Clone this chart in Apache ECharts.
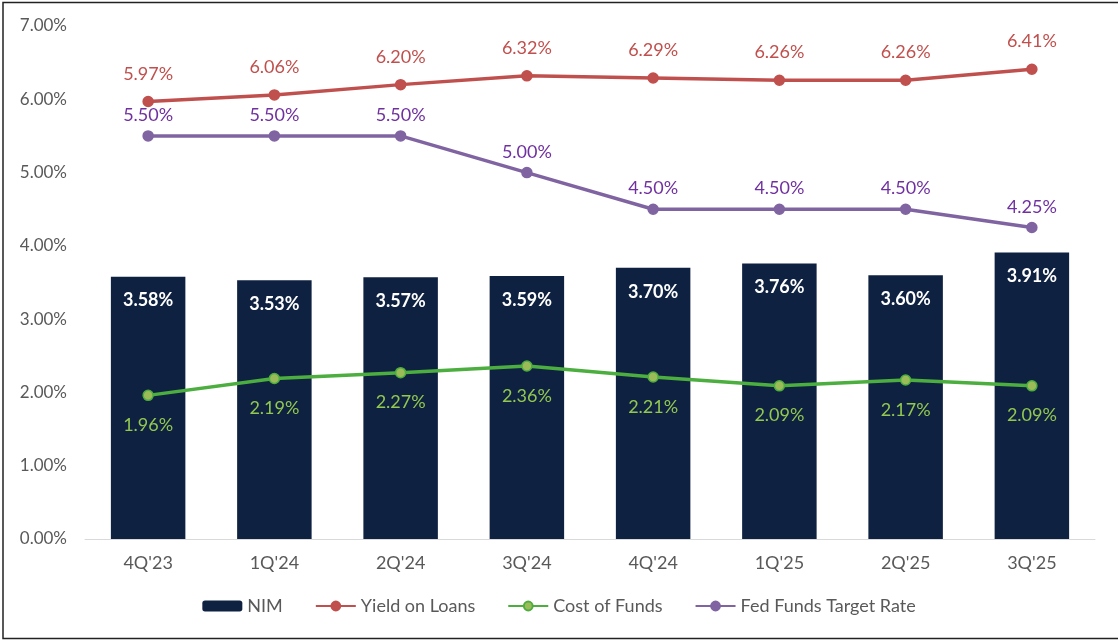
<!DOCTYPE html>
<html>
<head>
<meta charset="utf-8">
<script src="https://cdn.jsdelivr.net/npm/echarts@6/dist/echarts.min.js"></script>
<style>
  html, body { margin: 0; padding: 0; background: #fff; }
  #main { width: 1118px; height: 641px; }
</style>
</head>
<body>
<div id="main"></div>
<script>
// quarters on the x axis
const quarters = ["4Q'23", "1Q'24", "2Q'24", "3Q'24", "4Q'24", "1Q'25", "2Q'25", "3Q'25"]
// values in percent
const nim = [3.58, 3.53, 3.57, 3.59, 3.70, 3.76, 3.60, 3.91]
const yieldOnLoans = [5.97, 6.06, 6.20, 6.32, 6.29, 6.26, 6.26, 6.41]
const costOfFunds = [1.96, 2.19, 2.27, 2.36, 2.21, 2.09, 2.17, 2.09]
const fedFunds = [5.50, 5.50, 5.50, 5.00, 4.50, 4.50, 4.50, 4.25]

const FONT = 'Lato'
const pct = p => p.value.toFixed(2) + '%'

let chart = echarts.init(document.getElementById('main'))

function lineSeries (name, data, lineColor, dotColor, labelColor, pos, dist) {
  return {
    name: name,
    type: 'line',
    data: data,
    symbol: 'circle',
    symbolSize: 10,
    z: 3,
    lineStyle: { color: lineColor, width: 3.5 },
    itemStyle: { color: dotColor, borderColor: lineColor, borderWidth: 1.5 },
    label: {
      show: true,
      position: pos,
      distance: dist,
      formatter: pct,
      color: labelColor,
      fontFamily: FONT,
      fontSize: 18
    }
  }
}

let option = {
  backgroundColor: '#fff',
  animation: false,
  graphic: [{
    type: 'rect',
    shape: { x: 3, y: 2.5, width: 1125, height: 636 },
    style: { fill: 'none', stroke: '#222', lineWidth: 1.5 },
    silent: true
  }],
  grid: { left: 85, right: 23, top: 26, bottom: 102 },
  legend: {
    bottom: 21,
    left: 'center',
    itemGap: 32,
    itemWidth: 40,
    itemHeight: 11,
    textStyle: { color: '#595959', fontFamily: FONT, fontSize: 18 },
    data: [
      { name: 'NIM' },
      { name: 'Yield on Loans' },
      { name: 'Cost of Funds' },
      { name: 'Fed Funds Target Rate' }
    ]
  },
  xAxis: {
    type: 'category',
    data: quarters,
    axisTick: { show: false },
    axisLine: { lineStyle: { color: '#d9d9d9', width: 1 } },
    axisLabel: { color: '#595959', fontFamily: FONT, fontSize: 18, margin: 15 }
  },
  yAxis: {
    type: 'value',
    min: 0,
    max: 7,
    interval: 1,
    splitLine: { show: false },
    axisLine: { show: false },
    axisTick: { show: false },
    axisLabel: {
      color: '#595959',
      fontFamily: FONT,
      fontSize: 17,
      margin: 18,
      formatter: v => v.toFixed(2) + '%'
    }
  },
  series: [
    {
      name: 'NIM',
      type: 'bar',
      data: nim,
      barWidth: '59%',
      z: 2,
      itemStyle: { color: '#0e2141' },
      label: {
        show: true,
        position: 'insideTop',
        distance: 15,
        formatter: pct,
        color: '#fff',
        fontWeight: 'bold',
        fontFamily: FONT,
        fontSize: 18
      }
    },
    lineSeries('Yield on Loans', yieldOnLoans, '#c0504d', '#c0504d', '#c0504d', 'top', 13),
    lineSeries('Cost of Funds', costOfFunds, '#4cae3f', '#9bbb59', '#92c84f', 'bottom', 15),
    lineSeries('Fed Funds Target Rate', fedFunds, '#8064a2', '#8064a2', '#7030a0', 'top', 6)
  ]
}

chart.setOption(option)
</script>
</body>
</html>
